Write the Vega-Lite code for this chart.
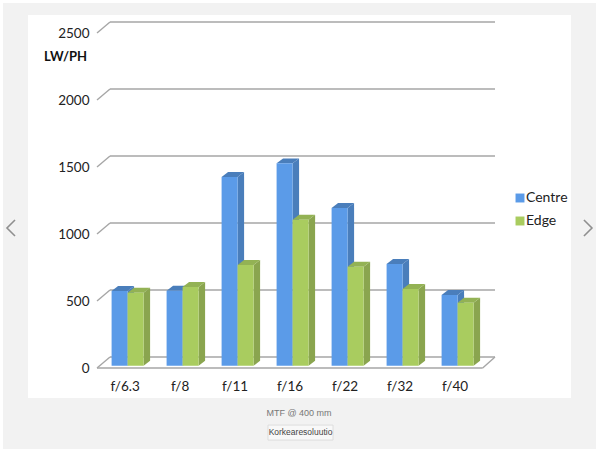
{
"$schema":"https://vega.github.io/schema/vega-lite/v6.json",
"width":600,"height":449,"padding":0,"autosize":{"type":"none"},
"background":"#ffffff",
"view":{"stroke":null},
"config":{"font":"Lato"},
"resolve":{"axis":{"x":"independent","y":"independent"}},
"datasets":{
"mtf":[
{"aperture":"f/6.3","series":"Centre","value":557},{"aperture":"f/6.3","series":"Edge","value":545},
{"aperture":"f/8","series":"Centre","value":560},{"aperture":"f/8","series":"Edge","value":587},
{"aperture":"f/11","series":"Centre","value":1408},{"aperture":"f/11","series":"Edge","value":752},
{"aperture":"f/16","series":"Centre","value":1510},{"aperture":"f/16","series":"Edge","value":1090},
{"aperture":"f/22","series":"Centre","value":1177},{"aperture":"f/22","series":"Edge","value":739},
{"aperture":"f/32","series":"Centre","value":759},{"aperture":"f/32","series":"Edge","value":572},
{"aperture":"f/40","series":"Centre","value":528},{"aperture":"f/40","series":"Edge","value":470}
],
"ticks":[{"tick":0},{"tick":500},{"tick":1000},{"tick":1500},{"tick":2000},{"tick":2500}]
},
"data":{"name":"mtf"},
"layer":[
{"data":{"values":[{"part":"page"}]},"mark":{"type":"rect","color":"#f2f2f2"},
 "encoding":{"x":{"datum":-2.265,"type":"quantitative","scale":{"domain":[0,6],"range":[127.6,457.6],"zero":false,"nice":false},"axis":null},"x2":{"datum":8.516},
 "y":{"datum":2707,"type":"quantitative","scale":{"domain":[0,2500],"range":[365.7,30.7],"zero":false,"nice":false},"axis":null},"y2":{"datum":-640}}},
{"data":{"values":[{"part":"panel"}]},"mark":{"type":"rect","color":"#ffffff"},
 "encoding":{"x":{"datum":-1.811,"type":"quantitative","axis":null},"x2":{"datum":8.062},"y":{"datum":2618,"type":"quantitative","axis":null},"y2":{"datum":-241}}},
{"data":{"name":"ticks"},"transform":[{"calculate":"datum.tick+65","as":"back"}],
 "mark":{"type":"rule","color":"#a6a6a6","strokeWidth":1.4},
 "encoding":{"x":{"datum":-0.32,"type":"quantitative","axis":null},"x2":{"datum":6.68},"y":{"field":"back","type":"quantitative","axis":null}}},
{"data":{"name":"ticks"},"transform":[{"calculate":"datum.tick+65","as":"back"},{"calculate":"datum.tick-17","as":"front"}],
 "mark":{"type":"rule","color":"#a6a6a6","strokeWidth":1.4},
 "encoding":{"x":{"datum":-0.556,"type":"quantitative","axis":null},"x2":{"datum":-0.32},"y":{"field":"front","type":"quantitative","axis":null},"y2":{"field":"back"}}},
{"data":{"values":[{"edge":"floor"}]},"mark":{"type":"rule","color":"#a6a6a6","strokeWidth":1.4},
 "encoding":{"x":{"datum":-0.556,"type":"quantitative","axis":null},"x2":{"datum":6.456},"y":{"datum":-17,"type":"quantitative","axis":null}}},
{"data":{"values":[{"edge":"floor"}]},"mark":{"type":"rule","color":"#a6a6a6","strokeWidth":1.4},
 "encoding":{"x":{"datum":6.456,"type":"quantitative","axis":null},"x2":{"datum":6.68},"y":{"datum":-17,"type":"quantitative","axis":null},"y2":{"datum":65}}},
{"transform":[
 {"calculate":"indexof(['f/6.3','f/8','f/11','f/16','f/22','f/32','f/40'],datum.aperture)+(datum.series=='Centre'?-0.291:0)","as":"left"},
 {"calculate":"[0,1]","as":"corner"},{"flatten":["corner"]},
 {"calculate":"datum.left+0.291+datum.corner*0.118","as":"sx"},
 {"calculate":"datum.value+datum.corner*37","as":"sy"},
 {"calculate":"datum.corner*37","as":"sy2"}],
 "mark":{"type":"area","interpolate":"linear"},
 "encoding":{"x":{"field":"sx","type":"quantitative","axis":null},"y":{"field":"sy","type":"quantitative","axis":null,"stack":null},"y2":{"field":"sy2"},
 "detail":[{"field":"aperture"},{"field":"series"}],
 "color":{"condition":{"test":"datum.series=='Centre'","value":"#4a7ebb"},"value":"#8aa54f"}}},
{"transform":[
 {"calculate":"indexof(['f/6.3','f/8','f/11','f/16','f/22','f/32','f/40'],datum.aperture)+(datum.series=='Centre'?-0.291:0)","as":"left"},
 {"calculate":"[0,1,2,3]","as":"corner"},{"flatten":["corner"]},
 {"calculate":"datum.left+[0,0.118,0.291,0.409][datum.corner]","as":"tx"},
 {"calculate":"datum.corner==0?datum.value:datum.value+37","as":"ty"},
 {"calculate":"datum.corner==3?datum.value+37:datum.value","as":"ty2"}],
 "mark":{"type":"area","interpolate":"linear"},
 "encoding":{"x":{"field":"tx","type":"quantitative","axis":null},"y":{"field":"ty","type":"quantitative","axis":null,"stack":null},"y2":{"field":"ty2"},
 "detail":[{"field":"aperture"},{"field":"series"}],
 "color":{"condition":{"test":"datum.series=='Centre'","value":"#4a7ebb"},"value":"#93b254"}}},
{"transform":[
 {"calculate":"indexof(['f/6.3','f/8','f/11','f/16','f/22','f/32','f/40'],datum.aperture)+(datum.series=='Centre'?-0.291:0)","as":"left"},
 {"calculate":"datum.left+0.291","as":"right"}],
 "mark":{"type":"bar"},
 "encoding":{
 "x":{"field":"left","type":"quantitative","title":null,"axis":{"zindex":1,"values":[0,1,2,3,4,5,6],"labelExpr":"['f/6.3','f/8','f/11','f/16','f/22','f/32','f/40'][datum.value]","domain":false,"ticks":false,"grid":false,"offset":-70,"labelPadding":0,"labelOffset":-3,"labelFont":"Lato","labelFontSize":13.5,"labelColor":"#222222","labelFlush":false,"labelOverlap":false}},
 "x2":{"field":"right"},
 "y":{"field":"value","type":"quantitative","stack":null,"title":"LW/PH","axis":{"zindex":1,"format":"d","values":[0,500,1000,1500,2000,2500],"domain":false,"ticks":false,"grid":false,"offset":-89,"labelPadding":0,"labelOffset":3,"labelFont":"Lato","labelFontSize":13.5,"labelColor":"#222222","titleAngle":0,"titleFont":"Lato","titleFontSize":13,"titleFontWeight":"bold","titleColor":"#111111","titleX":-24,"titleY":56,"titleAlign":"center","titleBaseline":"middle"}},
 "y2":{"datum":0},
 "color":{"field":"series","type":"nominal","scale":{"domain":["Centre","Edge"],"range":["#5b9be8","#a9cc5f"]},
 "legend":{"title":null,"orient":"none","legendX":513,"legendY":191,"symbolType":"square","symbolSize":80,"symbolStrokeWidth":0,"labelFont":"Lato","labelFontSize":14,"labelColor":"#222222","rowPadding":9,"labelOffset":-1}}}},
{"data":{"values":[{"label":"MTF @ 400 mm"}]},"mark":{"type":"text","font":"Liberation Sans","fontSize":9,"color":"#777777"},
 "encoding":{"text":{"field":"label"},"x":{"datum":3.116,"type":"quantitative","axis":null},"y":{"datum":-353,"type":"quantitative","axis":null}}},
{"data":{"values":[{"part":"button"}]},"mark":{"type":"rect","color":"#f8f8f8","stroke":"#dddddd","strokeWidth":1},
 "encoding":{"x":{"datum":2.553,"type":"quantitative","axis":null},"x2":{"datum":3.735},"y":{"datum":-443,"type":"quantitative","axis":null},"y2":{"datum":-555}}},
{"data":{"values":[{"label":"Korkearesoluutio"}]},"mark":{"type":"text","font":"Liberation Sans","fontSize":8.5,"color":"#444444"},
 "encoding":{"text":{"field":"label"},"x":{"datum":3.144,"type":"quantitative","axis":null},"y":{"datum":-498,"type":"quantitative","axis":null}}},
{"data":{"values":[{"nav":"prev"}]},"mark":{"type":"point","shape":"M 0.5 -1 L -0.5 0 L 0.5 1","size":256,"filled":false,"stroke":"#666666","strokeWidth":1.6},
 "encoding":{"x":{"datum":-2.12,"type":"quantitative","axis":null},"y":{"datum":1028,"type":"quantitative","axis":null}}},
{"data":{"values":[{"nav":"next"}]},"mark":{"type":"point","shape":"M -0.5 -1 L 0.5 0 L -0.5 1","size":256,"filled":false,"stroke":"#666666","strokeWidth":1.6},
 "encoding":{"x":{"datum":8.37,"type":"quantitative","axis":null},"y":{"datum":1028,"type":"quantitative","axis":null}}}
]
}
